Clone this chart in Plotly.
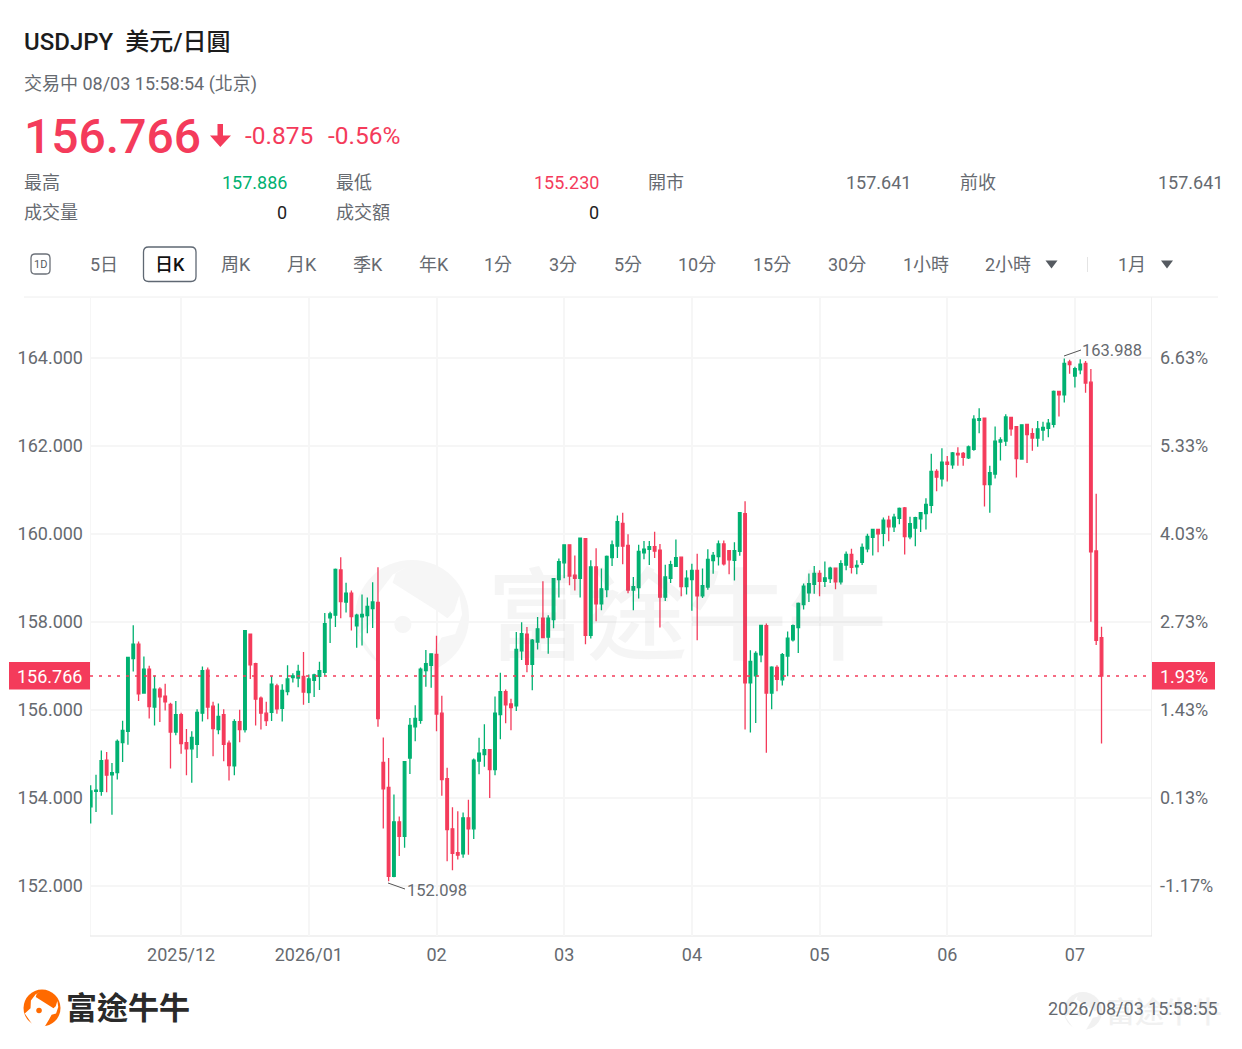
import plotly.graph_objects as go

W, H = 1242, 1049
FONT = "Roboto, 'Noto Sans CJK TC', sans-serif"
RED = '#f43b5b'
GREEN = '#00b171'
GREY = '#666a70'
GRID = '#f6f6f6'

# -----------------------------
# Daily candles
# -----------------------------
opens = [
    153.79, 154.14, 154.14, 154.85, 154.52, 154.57, 155.25, 155.51, 157.16, 157.49,
    156.38, 156.92, 156.06, 156.47, 156.31, 156.12, 155.49, 155.89, 155.25, 155.11,
    155.21, 155.92, 156.90, 156.08, 155.55, 155.89, 155.24, 154.72, 155.73, 155.55,
    157.72, 157.05, 156.26, 155.92, 155.94, 156.54, 156.03, 156.41, 156.73, 156.72,
    156.76, 156.39, 156.67, 156.76, 156.85, 158.09, 158.15, 159.18, 158.45, 158.65,
    157.91, 158.11, 158.14, 158.30, 158.44, 154.80, 154.23, 152.21, 153.45, 153.12,
    154.90, 155.61, 155.76, 156.89, 157.01, 157.26, 155.92, 154.43, 153.29, 152.75,
    152.72, 153.54, 153.29, 154.83, 154.98, 155.09, 154.64, 155.89, 156.41, 156.13,
    156.09, 157.34, 157.72, 157.03, 157.54, 158.08, 157.65, 158.05, 158.96, 159.34,
    159.75, 159.06, 158.99, 159.89, 157.69, 159.25, 158.41, 158.73, 159.46, 159.72,
    160.24, 159.74, 158.72, 158.78, 159.57, 159.65, 159.71, 159.63, 158.56, 158.99,
    159.26, 159.47, 158.80, 158.96, 159.17, 158.59, 158.79, 159.39, 159.48, 159.77,
    159.62, 159.40, 159.60, 160.46, 156.61, 156.77, 157.25, 157.91, 156.38, 156.96,
    156.68, 157.22, 157.59, 157.87, 158.39, 158.66, 158.85, 159.10, 158.92, 158.98,
    159.22, 158.91, 159.29, 159.53, 159.25, 159.35, 159.66, 159.92, 160.10, 160.01,
    160.31, 160.16, 160.35, 160.59, 159.93, 160.13, 160.34, 160.46, 160.65, 161.42,
    161.25, 161.63, 161.57, 161.83, 161.83, 161.73, 161.92, 162.58, 162.63, 161.12,
    161.36, 162.09, 162.11, 162.65, 162.44, 161.70, 162.49, 162.28, 162.18, 162.36,
    162.40, 162.49, 163.24, 163.16, 163.91, 163.59, 163.73, 163.88, 163.45, 159.61, 157.641,
]
closes = [
    154.15, 154.17, 154.84, 154.51, 154.57, 155.28, 155.53, 157.19, 157.49, 156.36,
    156.92, 156.07, 156.47, 156.29, 156.18, 155.49, 155.89, 155.23, 155.11, 155.37,
    155.94, 156.89, 156.06, 155.57, 155.85, 155.21, 154.73, 155.73, 155.55, 157.80,
    157.02, 156.24, 155.92, 155.75, 156.58, 156.02, 156.44, 156.70, 156.77, 156.87,
    156.40, 156.70, 156.79, 156.89, 157.96, 158.18, 159.19, 158.46, 158.65, 158.12,
    158.15, 158.17, 158.35, 158.45, 155.80, 154.20, 152.21, 153.45, 153.12, 154.82,
    155.64, 155.80, 156.92, 157.05, 157.27, 155.90, 154.41, 153.27, 152.73, 152.69,
    153.54, 153.29, 154.85, 155.01, 155.09, 154.64, 155.92, 156.41, 156.11, 156.05,
    157.37, 157.73, 157.03, 157.58, 157.84, 157.64, 158.08, 158.98, 159.37, 159.75,
    159.04, 158.99, 159.90, 157.69, 159.25, 158.41, 158.75, 159.49, 159.75, 160.28,
    159.72, 158.72, 158.80, 159.60, 159.65, 159.71, 159.61, 158.56, 159.02, 159.30,
    159.46, 158.80, 158.99, 159.17, 158.59, 158.82, 159.42, 159.51, 159.77, 159.32,
    159.41, 159.62, 160.48, 156.61, 157.10, 157.28, 157.92, 156.38, 156.97, 156.69,
    157.25, 157.63, 157.91, 158.42, 158.81, 158.87, 159.10, 158.92, 159.00, 159.22,
    158.91, 159.32, 159.53, 159.24, 159.28, 159.69, 159.94, 160.10, 160.00, 160.31,
    160.16, 160.38, 160.58, 159.94, 160.23, 160.37, 160.48, 160.67, 161.42, 161.29,
    161.63, 161.58, 161.84, 161.80, 161.74, 161.98, 162.61, 162.62, 161.12, 161.39,
    162.11, 162.14, 162.66, 162.39, 161.71, 162.48, 162.26, 162.18, 162.39, 162.42,
    162.52, 163.24, 163.16, 163.88, 163.85, 163.76, 163.86, 163.43, 159.59, 157.58, 156.766,
]
highs = [
    154.28, 154.52, 155.07, 155.04, 154.79, 155.32, 155.75, 157.20, 157.92, 157.55,
    157.21, 157.00, 156.77, 156.51, 156.59, 156.16, 156.20, 155.93, 155.56, 155.51,
    156.01, 156.98, 156.96, 156.18, 156.14, 156.01, 155.30, 155.78, 156.00, 157.80,
    157.73, 157.07, 156.30, 156.18, 156.76, 156.59, 156.58, 157.01, 156.83, 157.02,
    157.31, 156.80, 156.82, 157.09, 158.20, 158.23, 159.21, 159.47, 158.89, 158.71,
    158.18, 158.62, 158.55, 158.90, 159.24, 155.37, 154.90, 154.07, 153.57, 154.82,
    155.81, 156.10, 156.96, 157.36, 157.28, 157.68, 156.32, 154.68, 153.78, 153.69,
    153.66, 153.95, 154.89, 155.36, 155.67, 155.09, 156.30, 156.84, 156.46, 156.25,
    157.77, 157.99, 157.88, 157.61, 158.11, 158.92, 158.15, 158.98, 159.44, 159.76,
    159.76, 159.51, 159.91, 159.90, 159.40, 159.67, 159.21, 159.51, 159.85, 160.42,
    160.48, 159.99, 159.02, 159.75, 159.84, 159.84, 160.05, 159.77, 159.30, 159.39,
    159.87, 159.48, 159.17, 159.32, 159.55, 159.21, 159.65, 159.59, 159.85, 159.85,
    159.62, 159.81, 160.48, 160.74, 157.35, 157.33, 157.92, 157.96, 156.99, 157.01,
    157.29, 157.78, 157.94, 158.44, 158.87, 159.10, 159.27, 159.17, 159.37, 159.25,
    159.22, 159.40, 159.60, 159.66, 159.40, 159.78, 160.00, 160.11, 160.10, 160.37,
    160.41, 160.46, 160.60, 160.61, 160.39, 160.39, 160.50, 160.81, 161.82, 161.47,
    161.95, 161.77, 161.86, 161.97, 161.86, 162.01, 162.70, 162.86, 162.64, 161.55,
    162.44, 162.20, 162.72, 162.66, 162.44, 162.48, 162.50, 162.40, 162.57, 162.55,
    162.61, 163.26, 163.25, 163.988, 163.96, 163.80, 163.97, 163.93, 163.75, 160.91, 157.886,
]
lows = [
    153.41, 153.67, 154.04, 154.12, 153.61, 154.41, 154.81, 155.20, 156.87, 156.20,
    156.38, 155.80, 155.64, 155.72, 155.98, 154.66, 155.42, 155.00, 154.51, 154.34,
    154.90, 155.73, 155.78, 154.94, 155.44, 154.83, 154.39, 154.51, 155.26, 155.48,
    156.70, 155.64, 155.55, 155.63, 155.74, 155.91, 155.73, 156.33, 156.62, 156.51,
    156.11, 156.15, 156.29, 156.45, 156.77, 157.52, 157.88, 158.08, 158.21, 157.80,
    157.41, 157.46, 157.74, 157.86, 155.61, 153.30, 152.098, 152.19, 152.67, 152.86,
    154.54, 155.28, 155.68, 156.52, 156.50, 155.51, 154.04, 152.55, 152.35, 152.59,
    152.63, 152.70, 153.06, 154.53, 154.70, 153.99, 154.51, 155.33, 155.69, 155.53,
    155.97, 157.13, 156.85, 156.44, 157.37, 157.64, 157.27, 157.85, 158.55, 158.99,
    158.83, 158.71, 158.55, 157.49, 157.62, 158.01, 158.26, 158.56, 159.27, 159.45,
    159.31, 158.65, 158.26, 158.53, 159.42, 159.29, 159.45, 157.87, 158.47, 158.88,
    159.26, 158.58, 158.62, 158.25, 157.58, 158.54, 158.73, 159.09, 159.28, 159.28,
    159.08, 158.94, 159.50, 155.55, 155.48, 155.70, 157.08, 155.02, 156.01, 156.42,
    156.55, 156.76, 157.55, 157.29, 158.28, 158.45, 158.64, 158.58, 158.79, 158.88,
    158.74, 158.85, 159.17, 159.10, 159.08, 159.29, 159.58, 159.51, 159.58, 159.72,
    159.83, 160.04, 160.22, 159.53, 159.88, 159.72, 160.04, 160.10, 160.47, 160.97,
    161.08, 161.19, 161.48, 161.55, 161.55, 161.70, 161.89, 162.29, 160.62, 160.48,
    161.26, 161.67, 162.00, 162.23, 161.28, 161.70, 161.61, 161.89, 161.98, 162.12,
    162.20, 162.42, 162.67, 162.99, 163.64, 163.33, 163.63, 163.21, 158.00, 157.47, 155.230,
]
days = list(range(len(closes)))

month_days = [17, 41, 65, 89, 113, 137, 161, 185]
month_labels = ['2025/12', '2026/01', '02', '03', '04', '05', '06', '07']
price_ticks = [152, 154, 156, 158, 160, 162, 164]
price_labels = ['152.000', '154.000', '156.000', '158.000', '160.000', '162.000', '164.000']
pct_labels = ['-1.17%', '0.13%', '1.43%', '2.73%', '4.03%', '5.33%', '6.63%']

last_price = 156.766

tabs = ['5日', '日K', '周K', '月K', '季K', '年K', '1分', '3分', '5分', '10分', '15分', '30分', '1小時', '2小時', '1月']
tab_x = [104, 170, 236, 302, 368, 434, 498, 563, 628, 697, 772, 847, 926, 1008, 1132]


def px(x):
    return x / W


def py(y):
    return 1 - y / H


annotations = []
shapes = []


def label(x, y, text, size=18, color=GREY, anchor='left', weight=400):
    # annotation boxes keep 1px of padding, pull it back
    nudge = {'left': -1, 'right': 1, 'center': 0}[anchor]
    annotations.append(dict(
        xref='paper', yref='paper', x=px(x + nudge), y=py(y), text=text, showarrow=False,
        xanchor=anchor, yanchor='middle', borderpad=0, align=anchor,
        font=dict(family=FONT, size=size, color=color, weight=weight),
    ))


def box(x0, y0, x1, y1, fill, layer='above'):
    shapes.append(dict(type='rect', xref='paper', yref='paper', layer=layer,
                       x0=px(x0), x1=px(x1), y0=py(y0), y1=py(y1),
                       fillcolor=fill, line_width=0))


def line(x0, y0, x1, y1, color, width=1, layer='below'):
    shapes.append(dict(type='line', xref='paper', yref='paper', layer=layer,
                       x0=px(x0), x1=px(x1), y0=py(y0), y1=py(y1),
                       line=dict(color=color, width=width)))


def poly(points, fill):
    # pixel points -> closed path in paper coordinates
    path = 'M ' + ' L '.join(f'{px(x):.5f} {py(y):.5f}' for x, y in points) + ' Z'
    shapes.append(dict(type='path', xref='paper', yref='paper', layer='above',
                       path=path, fillcolor=fill, line_width=0))


def round_rect(x0, y0, x1, y1, color, r=4, width=1.3):
    k = [(x0 + r, y0), (x1 - r, y0), (x1, y0 + r), (x1, y1 - r), (x1 - r, y1), (x0 + r, y1), (x0, y1 - r), (x0, y0 + r)]
    p = [(px(x), py(y)) for x, y in k]
    path = (f'M {p[0][0]:.5f} {p[0][1]:.5f} L {p[1][0]:.5f} {p[1][1]:.5f} '
            f'Q {px(x1):.5f} {py(y0):.5f} {p[2][0]:.5f} {p[2][1]:.5f} L {p[3][0]:.5f} {p[3][1]:.5f} '
            f'Q {px(x1):.5f} {py(y1):.5f} {p[4][0]:.5f} {p[4][1]:.5f} L {p[5][0]:.5f} {p[5][1]:.5f} '
            f'Q {px(x0):.5f} {py(y1):.5f} {p[6][0]:.5f} {p[6][1]:.5f} L {p[7][0]:.5f} {p[7][1]:.5f} '
            f'Q {px(x0):.5f} {py(y0):.5f} {p[0][0]:.5f} {p[0][1]:.5f} Z')
    shapes.append(dict(type='path', xref='paper', yref='paper', path=path, line=dict(color=color, width=width)))


def logo(cx, cy, r, fg, bg, layer='below'):
    # round badge with the white swoosh and dot inside it
    shapes.append(dict(type='circle', xref='paper', yref='paper', layer=layer,
                       x0=px(cx - r), x1=px(cx + r), y0=py(cy - r), y1=py(cy + r),
                       fillcolor=fg, line_width=0))
    swoosh = [(-0.06, -0.89), (-0.28, -0.78), (-0.34, -0.6), (0.45, -0.1), (0.62, 0.02), (0.74, -0.1),
              (0.83, -0.38), (0.88, -0.05), (0.76, 0.3), (0.52, 0.36), (0.38, 0.62), (0.12, 1.05),
              (-0.22, 1.05), (-0.5, 0.92), (-0.93, 0.3), (-0.62, 0.02), (-0.6, -0.4), (-0.34, -0.74)]
    path = 'M ' + ' L '.join(f'{px(cx + a * r):.5f} {py(cy + b * r):.5f}' for a, b in swoosh) + ' Z'
    shapes.append(dict(type='path', xref='paper', yref='paper', layer=layer, path=path, fillcolor=bg, line_width=0))
    shapes.append(dict(type='circle', xref='paper', yref='paper', layer=layer,
                       x0=px(cx - 0.31 * r), x1=px(cx - 0.01 * r), y0=py(cy - 0.02 * r), y1=py(cy + 0.28 * r),
                       fillcolor=fg, line_width=0))


# --- header ---
label(24, 41.5, 'USDJPY&nbsp;&nbsp;美元/日圓', size=24, color='#1c1c1c', weight=500)
label(24, 84, '交易中 08/03 15:58:54 (北京)', size=18)
label(24, 136, '156.766', size=48, color=RED, weight=500)
poly([(217.5, 124), (223, 124), (223, 135.5), (231, 135.5), (220.3, 147), (210, 135.5), (217.5, 135.5)], RED)
label(245, 135, '-0.875', size=24.5, color=RED)
label(328, 135, '-0.56%', size=24.5, color=RED)

label(24, 183, '最高')
label(287, 182.5, '157.886', color=GREEN, anchor='right')
label(336, 183, '最低')
label(599, 182.5, '155.230', color=RED, anchor='right')
label(648, 183, '開市')
label(911, 182.5, '157.641', anchor='right')
label(960, 183, '前收')
label(1223, 182.5, '157.641', anchor='right')
label(24, 212, '成交量')
label(287, 212.5, '0', color='#222222', anchor='right')
label(336, 212, '成交額')
label(599, 212.5, '0', color='#222222', anchor='right')

# --- period tabs ---
round_rect(31, 254, 50, 274, '#6b7078', r=4)
label(40.5, 264, '1D', size=11, color='#555a60', anchor='center')
round_rect(143.5, 247, 196, 281.5, '#5f6873', r=5)
for name, x in zip(tabs, tab_x):
    if name == '日K':
        label(x, 264, name, color='#111111', anchor='center', weight=500)
    else:
        label(x, 264, name, anchor='center')
poly([(1045.5, 260.5), (1057.5, 260.5), (1051.5, 268.5)], '#555a60')
poly([(1161, 260.5), (1173, 260.5), (1167, 268.5)], '#555a60')
line(1087.5, 257, 1087.5, 272, '#e4e4e4')
line(24, 297, 1218, 297, '#eeeeee')

# --- watermark ---
logo(412, 617, 57, '#f6f6f6', '#ffffff')
annotations.append(dict(xref='paper', yref='paper', x=px(687), y=py(617), text='富途牛牛', showarrow=False,
                        xanchor='center', yanchor='middle',
                        font=dict(family=FONT, size=100, color='rgba(120,120,120,0.07)', weight=500)))

# --- chart frame ---
line(90.5, 297, 90.5, 936, GRID)
line(1151.5, 297, 1151.5, 936, '#f0f0f0')
line(90, 936, 1152, 936, '#e6e6e6', 1.2)

# --- price tags ---
box(9, 662, 90, 689.5, RED)
label(49.5, 676, '156.766', color='#ffffff', anchor='center')
box(1152, 662, 1215, 689.5, RED)
label(1184, 676, '1.93%', color='#ffffff', anchor='center')
shapes.append(dict(type='line', xref='paper', yref='y', x0=px(90), x1=px(1151), y0=last_price, y1=last_price,
                   layer='above', line=dict(color=RED, width=1.4, dash='3px,6px')))

# --- footer ---
logo(42, 1008, 18.5, '#ff6a00', '#ffffff', layer='above')
label(66, 1008, '富途牛牛', size=31, color='#2a2a2a', weight=700)
logo(1083, 1011, 19, '#f1f1f1', '#ffffff')
label(1106, 1013, '富途牛牛', size=29, color='#f1f1f1', weight=500)
label(1218, 1008, '2026/08/03 15:58:55', size=18, anchor='right')

# --- extreme labels ---
line(1064, 356, 1081, 350, '#555555', 1, layer='above')
label(1082, 350, '163.988', size=16.5)
line(388, 883, 405, 889, '#555555', 1, layer='above')
label(407, 890, '152.098', size=16.5)

fig = go.Figure()
fig.add_trace(go.Candlestick(
    x=days, open=opens, high=highs, low=lows, close=closes,
    increasing=dict(line=dict(color=GREEN, width=1.3), fillcolor=GREEN),
    decreasing=dict(line=dict(color=RED, width=1.3), fillcolor=RED),
    whiskerwidth=0, hoverinfo='skip', showlegend=False,
))
# carries the right-hand percent axis
fig.add_trace(go.Scatter(x=[days[0]] * len(price_ticks), y=price_ticks, yaxis='y2', mode='none',
                         hoverinfo='skip', showlegend=False))

y_range = [150.852, 165.388]
fig.update_layout(
    width=W, height=H,
    margin=dict(l=0, r=0, t=0, b=0),
    paper_bgcolor='white', plot_bgcolor='rgba(0,0,0,0)',
    font=dict(family=FONT, size=18, color=GREY),
    dragmode=False,
    xaxis=dict(
        domain=[px(90), px(1151)], range=[-0.13, 199.3], rangeslider=dict(visible=False),
        tickmode='array', tickvals=month_days, ticktext=month_labels,
        showgrid=True, gridcolor=GRID, gridwidth=1.5, zeroline=False, showline=False,
        ticks='', ticklabelstandoff=6, tickfont=dict(size=18, color=GREY),
    ),
    yaxis=dict(
        domain=[py(936), py(297)], range=y_range, fixedrange=True,
        tickmode='array', tickvals=price_ticks, ticktext=price_labels,
        showgrid=True, gridcolor=GRID, gridwidth=1.5, zeroline=False, showline=False,
        ticks='', ticklabelstandoff=6, tickfont=dict(size=18, color=GREY),
    ),
    yaxis2=dict(
        domain=[py(936), py(297)], range=y_range, overlaying='y', side='right', anchor='x',
        tickmode='array', tickvals=price_ticks, ticktext=pct_labels,
        showgrid=False, zeroline=False, showline=False,
        ticks='', ticklabelstandoff=8, tickfont=dict(size=18, color=GREY),
    ),
    annotations=annotations,
    shapes=shapes,
)

fig.write_html("out.html", config={'displayModeBar': False}, post_script="document.body.style.margin='0';")
